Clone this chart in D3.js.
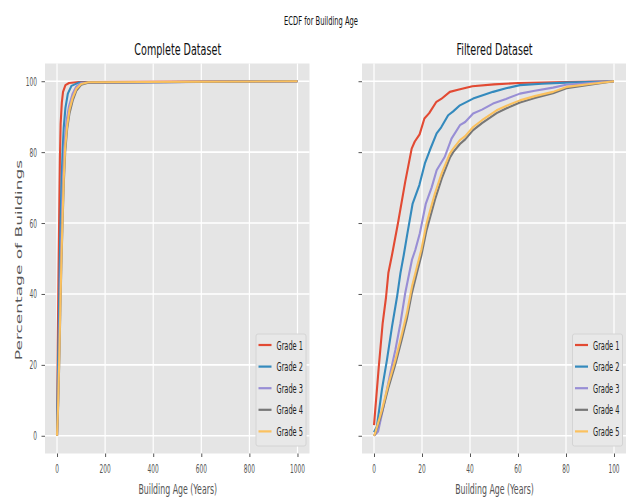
<!DOCTYPE html>
<html>
<head>
<meta charset="utf-8">
<script src="https://cdn.jsdelivr.net/npm/d3@7"></script>
<style>
  html, body { margin: 0; padding: 0; background: #ffffff; }
  svg { display: block; font-family: "DejaVu Sans", sans-serif; }
</style>
</head>
<body>
<svg id="chart" width="634" height="500"></svg>
<script>
// ECDF of building age per grade: [age in years, cumulative % of buildings]
const gradeNames = ["Grade 1", "Grade 2", "Grade 3", "Grade 4", "Grade 5"];
const gradeColors = ["#E24A33", "#348ABD", "#988ED5", "#777777", "#FBC15E"];

// Complete dataset (ages up to 1000 years)
const completeGrade1 = [[0,0],[3,25],[6,45],[9,62],[12,78],[15,88],[20,94],[25,97],[35,98.9],[50,99.5],[90,99.8],[1000,100]];
const completeGrade2 = [[0,0],[3,15],[7,30],[11,48],[14,58],[18,70],[23,80],[28,87],[35,92.5],[45,96.5],[60,98.7],[90,99.6],[1000,100]];
const completeGrade3 = [[0,0],[4,8],[9,24],[13,40],[17,52],[22,66],[27,76],[33,84],[40,89],[50,93],[65,96.5],[80,98.5],[100,99.5],[1000,100]];
const completeGrade4 = [[0,0],[4,7],[9,20],[14,36],[18,48],[23,60],[28,71],[34,80],[42,86.5],[52,91],[65,94.5],[80,97.3],[100,99],[130,99.6],[1000,100]];
const completeGrade5 = [[0,0],[4,7.5],[9,21],[14,37],[18,49],[23,61.5],[28,72.5],[34,81.5],[42,87.5],[52,92],[65,95.3],[80,97.8],[100,99.2],[130,99.7],[1000,100]];

// Filtered dataset (ages 0-100 years)
const filteredGrade1 = [[0,3],[2,19.5],[3.6,31.7],[5,39],[6,46],[7.5,51],[10,60],[13,71.6],[15.7,81],[17,83],[19,85],[21,89.5],[23,91],[26,94.2],[28,95],[31.6,97],[35,97.6],[41,98.6],[50,99.1],[60,99.5],[80,99.8],[100,100]];
const filteredGrade2 = [[0,1],[1.2,2.6],[3.3,13],[5.4,21.4],[7.5,30.8],[9.6,39.2],[11,45.8],[12.4,51],[13.9,57],[16.1,65.5],[18.9,70.7],[21.2,76.8],[23.3,80.6],[26.1,85.3],[28,87],[30.9,90.4],[33,91.5],[35.8,93.2],[41.3,95.1],[45,96],[49.6,97],[55,98],[60.8,98.9],[70,99.3],[80,99.6],[100,100]];
const filteredGrade3 = [[0,0],[1.7,1.2],[4,8.3],[6.8,17.7],[8.9,24.2],[11,31.7],[13,40.2],[15.8,49.6],[17.2,52.4],[19.1,57.1],[21.6,65.5],[24,70],[26.1,74.9],[29.5,78.7],[32.3,83.8],[35.8,87.6],[38,88.5],[41.3,90.9],[45,92],[49.6,93.7],[55,95],[60.8,96.5],[67,97.3],[74.6,98.2],[80,99],[90,99.5],[100,100]];
const filteredGrade4 = [[0,0],[0.5,0.5],[3.3,6.5],[6.1,13.8],[8.9,20.2],[11.7,27.5],[13.7,33],[15.8,40.3],[17.9,46],[19.7,50.8],[21.9,58],[25.4,66.6],[28.2,72.5],[31.6,78.4],[33,80],[35.8,82.3],[38,83.6],[41.3,86.2],[45,88.2],[51.1,91],[55,92.3],[60.8,94],[67,95.3],[74.6,96.6],[80.2,98],[90,99],[100,100]];
const filteredGrade5 = [[0,0],[0.5,0.8],[3.3,7.3],[6.1,14.8],[8.9,21.4],[11.7,28.9],[13.7,34.6],[15.8,42],[17.9,47.7],[19.7,52.4],[21.9,59.9],[25.4,68.4],[28.2,74],[31.6,79.6],[33,81],[35.8,83.4],[38,84.5],[41.3,87.1],[45,89],[51.1,91.8],[55,93],[60.8,94.6],[67,95.8],[74.6,97],[80.2,98.4],[90,99.2],[100,100]];

const completeTicksX = [0, 200, 400, 600, 800, 1000];
const filteredTicksX = [0, 20, 40, 60, 80, 100];
const ticksY = [0, 20, 40, 60, 80, 100];

const panels = [
  { title: "Complete Dataset", series: [completeGrade1, completeGrade2, completeGrade3, completeGrade4, completeGrade5],
    xDomain: [-50, 1050], xTicks: completeTicksX, left: 45, right: 309.5, showY: true },
  { title: "Filtered Dataset", series: [filteredGrade1, filteredGrade2, filteredGrade3, filteredGrade4, filteredGrade5],
    xDomain: [-5, 105], xTicks: filteredTicksX, left: 362, right: 626, showY: false }
];

const plotTop = 63.5, plotBottom = 453.5;
const svg = d3.select("#chart");

// text drawn with a horizontal compression
function label(g, x, y, str, size, sx, anchor, fill) {
  return g.append("text")
    .attr("transform", `translate(${x},${y}) scale(${sx},1)`)
    .attr("text-anchor", anchor)
    .attr("font-size", size)
    .attr("fill", fill)
    .text(str);
}

label(svg, 321, 25, "ECDF for Building Age", 12, 0.56, "middle", "#111");

const y = d3.scaleLinear().domain([-5, 105]).range([plotBottom, plotTop]);

panels.forEach(p => {
  const x = d3.scaleLinear().domain(p.xDomain).range([p.left, p.right]);
  const g = svg.append("g");

  g.append("rect").attr("x", p.left).attr("y", plotTop)
    .attr("width", p.right - p.left).attr("height", plotBottom - plotTop)
    .attr("fill", "#E5E5E5");

  // grid
  g.selectAll(".gx").data(p.xTicks).join("line")
    .attr("x1", d => x(d)).attr("x2", d => x(d))
    .attr("y1", plotTop).attr("y2", plotBottom)
    .attr("stroke", "#fff").attr("stroke-width", 1.2);
  g.selectAll(".gy").data(ticksY).join("line")
    .attr("x1", p.left).attr("x2", p.right)
    .attr("y1", d => y(d)).attr("y2", d => y(d))
    .attr("stroke", "#fff").attr("stroke-width", 1.6);

  // x axis
  const xAxis = g.append("g").attr("transform", `translate(0,${plotBottom})`)
    .call(d3.axisBottom(x).tickValues(p.xTicks).tickSize(3.5).tickFormat(""));
  xAxis.select(".domain").remove();
  xAxis.selectAll("line").attr("stroke", "#555");
  p.xTicks.forEach(t => label(g, x(t), 473, String(t), 13, 0.45, "middle", "#555"));

  // y axis
  const yAxis = g.append("g").attr("transform", `translate(${p.left},0)`)
    .call(d3.axisLeft(y).tickValues(ticksY).tickSize(3.5).tickFormat(""));
  yAxis.select(".domain").remove();
  yAxis.selectAll("line").attr("stroke", "#555");
  if (p.showY) {
    ticksY.forEach(t => label(g, 37, y(t) + 4.5, String(t), 13, 0.45, "end", "#555"));
  }

  // lines
  const line = d3.line().x(d => x(d[0])).y(d => y(d[1]));
  p.series.forEach((s, i) => {
    g.append("path").datum(s).attr("d", line)
      .attr("fill", "none").attr("stroke", gradeColors[i])
      .attr("stroke-width", 2.1).attr("stroke-linejoin", "round");
  });

  label(svg, (p.left + p.right) / 2 + 0.5, 54.5, p.title, 15, 0.64, "middle", "#111");
  label(svg, (p.left + p.right) / 2 + 0.5, 494, "Building Age (Years)", 14, 0.56, "middle", "#555");

  // legend
  const lx = p.right - 53.5, ly = 334;
  g.append("rect").attr("x", lx).attr("y", ly).attr("width", 50).attr("height", 112)
    .attr("rx", 2).attr("fill", "#E8E8E8").attr("stroke", "#d4d4d4").attr("stroke-width", 1);
  gradeNames.forEach((n, i) => {
    const yy = ly + 11 + i * 21.6;
    g.append("line").attr("x1", lx + 2.5).attr("x2", lx + 15.5)
      .attr("y1", yy).attr("y2", yy)
      .attr("stroke", gradeColors[i]).attr("stroke-width", 2.2);
    label(g, lx + 20.5, yy + 4.5, n, 13, 0.51, "start", "#222");
  });
});

// y axis title
svg.append("text")
  .attr("transform", "translate(22,260) scale(0.55,1) rotate(-90)")
  .attr("text-anchor", "middle")
  .attr("font-size", 17)
  .attr("fill", "#555")
  .text("Percentage of Buildings");
</script>
</body>
</html>
